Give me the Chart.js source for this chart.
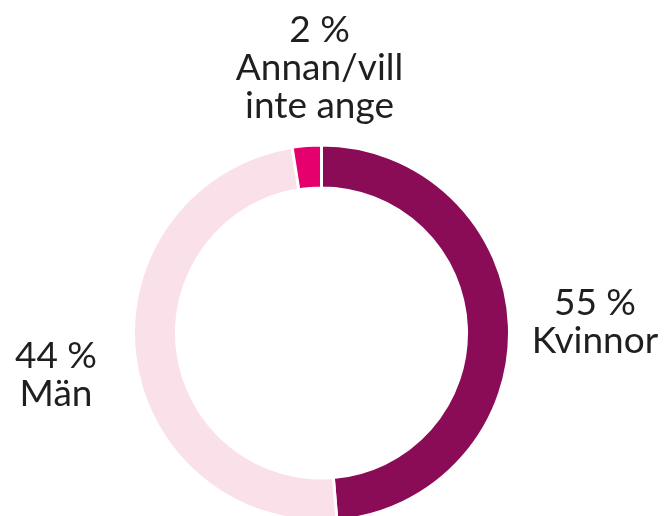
<!DOCTYPE html>
<html>
<head>
<meta charset="utf-8">
<script src="https://cdn.jsdelivr.net/npm/chart.js@4.4.0/dist/chart.umd.min.js"></script>
<style>
  html, body { margin: 0; padding: 0; background: #ffffff; overflow: hidden; }
  #wrap { width: 664px; height: 516px; position: relative; }
</style>
</head>
<body>
<div id="wrap"><canvas id="c" width="664" height="516"></canvas></div>
<script>
// Categories and values (values read from the drawn arcs)
const categories = ["Kvinnor", "Män", "Annan/vill inte ange"];
const values = [48.7, 48.8, 2.5];
// Label texts as printed in the picture
const percentLabels = ["55 %", "44 %", "2 %"];
const nameLines = [["Kvinnor"], ["Män"], ["Annan/vill", "inte ange"]];
const colors = ["#8a0c57", "#fae0e9", "#e5006e"];

const FONT = '37px Lato';
const TEXT_COLOR = '#1f1f1f';

const labelPlugin = {
  id: 'sliceLabels',
  afterDraw(chart) {
    const arc = chart.getDatasetMeta(0).data[0];
    if (!arc) return;
    const cx = arc.x, cy = arc.y;
    const ctx = chart.ctx;
    ctx.save();
    ctx.font = FONT;
    ctx.fillStyle = TEXT_COLOR;
    ctx.textAlign = 'center';
    ctx.textBaseline = 'alphabetic';
    const lh = 38;
    // label anchors relative to arc centre: [dx, first baseline dy]
    const anchors = [[273.5, -18], [-265.5, 35], [-2, -291]];
    for (let i = 0; i < categories.length; i++) {
      const lines = [percentLabels[i]].concat(nameLines[i]);
      const [dx, dy] = anchors[i];
      lines.forEach((t, k) => ctx.fillText(t, cx + dx, cy + dy + k * lh));
    }
    ctx.restore();
  }
};

new Chart(document.getElementById('c'), {
  type: 'doughnut',
  data: {
    labels: categories,
    datasets: [{
      data: values,
      backgroundColor: colors,
      borderColor: '#ffffff',
      borderWidth: 3,
      radius: 188,
      cutout: 140
    }]
  },
  options: {
    responsive: false,
    animation: false,
    rotation: 0,
    layout: { padding: { top: 150, bottom: 0, left: 0, right: 21 } },
    plugins: {
      legend: { display: false },
      tooltip: { enabled: false }
    }
  },
  plugins: [labelPlugin]
});
</script>
</body>
</html>
